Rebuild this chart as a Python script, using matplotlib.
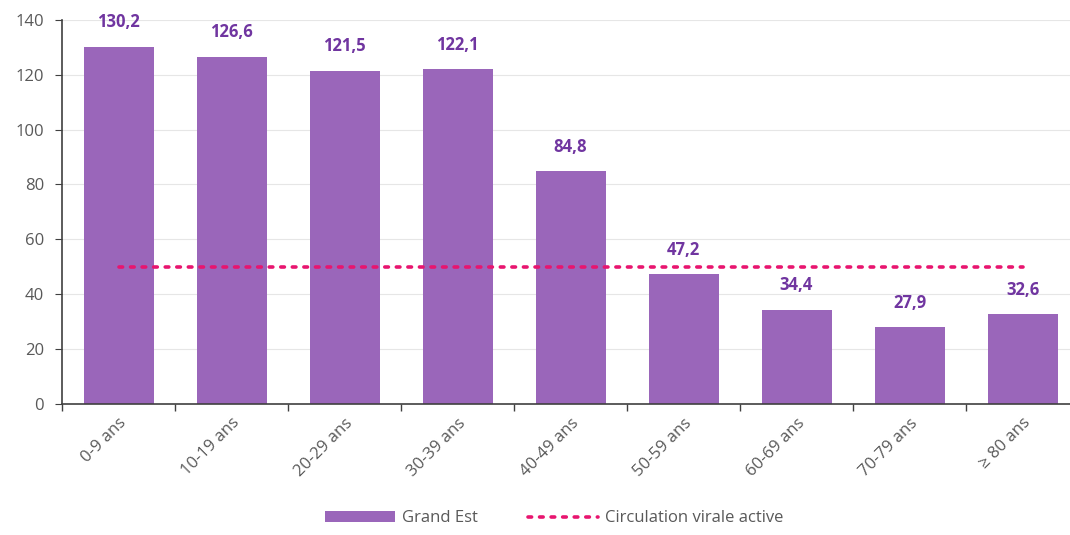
import matplotlib
matplotlib.use("Agg")
import matplotlib.pyplot as plt
from matplotlib.ticker import FixedLocator, NullFormatter

categories = ["0-9 ans", "10-19 ans", "20-29 ans", "30-39 ans", "40-49 ans",
              "50-59 ans", "60-69 ans", "70-79 ans", "≥ 80 ans"]
values = [130.2, 126.6, 121.5, 122.1, 84.8, 47.2, 34.4, 27.9, 32.6]
threshold = [50] * len(categories)
labels = ["130,2", "126,6", "121,5", "122,1", "84,8", "47,2", "34,4", "27,9", "32,6"]
yticks = [0, 20, 40, 60, 80, 100, 120, 140]

bar_color = "#9A66BA"
line_color = "#E8156F"
label_color = "#7035A0"
tick_color = "#595959"

plt.rcParams['font.family'] = ['Open Sans', 'DejaVu Sans']

fig = plt.figure(figsize=(10.7, 5.35), dpi=100)
ax = fig.add_axes([0.058, 0.245, 0.942, 0.718])

x = list(range(len(categories)))
bars = ax.bar(x, values, width=0.62, color=bar_color, label="Grand Est", zorder=2)
line, = ax.plot(x, threshold, linestyle=(0, (1, 2.2)), color=line_color, linewidth=2.6,
                dash_capstyle='round', label="Circulation virale active", zorder=3)

for xi, v, t in zip(x, values, labels):
    ax.annotate(t, (xi, v), xytext=(0, 11), textcoords="offset points",
                ha="center", va="bottom", fontsize=12, fontweight="bold",
                color=label_color)

ax.set_ylim(0, 140)
ax.set_xlim(-0.5, 8.42)
ax.set_yticks(yticks)
ax.yaxis.grid(True, color="#E6E6E6", linewidth=0.8, zorder=0)
ax.set_axisbelow(True)

ax.set_xticks(x)
ax.set_xticklabels(categories, rotation=45, ha="right", rotation_mode="anchor",
                   fontsize=12, color=tick_color)
ax.tick_params(axis="x", which="major", length=0, pad=8)
ax.xaxis.set_minor_locator(FixedLocator([i + 0.5 for i in range(-1, 9)]))
ax.xaxis.set_minor_formatter(NullFormatter())
ax.tick_params(axis="x", which="minor", length=5, color="#404040", width=1)
ax.tick_params(axis="y", length=5, color="#404040", labelsize=12,
               labelcolor=tick_color, pad=8)

for s in ["top", "right"]:
    ax.spines[s].set_visible(False)
ax.spines["left"].set_color("#404040")
ax.spines["bottom"].set_color("#404040")
ax.spines["left"].set_linewidth(1.2)
ax.spines["bottom"].set_linewidth(1.2)

fig.legend(handles=[bars, line], labels=["Grand Est", "Circulation virale active"],
           loc="lower center", bbox_to_anchor=(0.518, -0.012), ncol=2, frameon=False,
           fontsize=12, handlelength=4.2, columnspacing=3.0, handletextpad=0.4,
           labelcolor=tick_color)

fig.savefig("out.png", dpi=100)
